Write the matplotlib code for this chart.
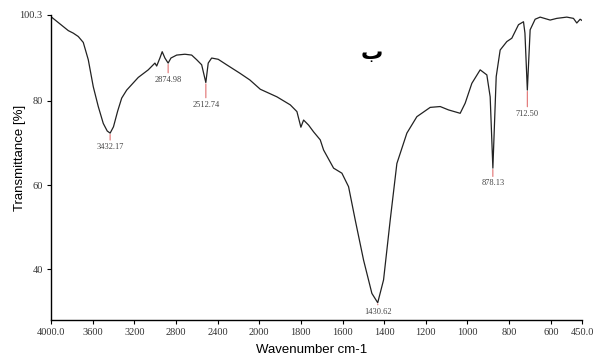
import numpy as np
import matplotlib
matplotlib.use('Agg')
import matplotlib.pyplot as plt
from matplotlib.ticker import FixedLocator

# spectrum (wavenumber cm-1, transmittance %)
wavenumber = [4000, 3834, 3786, 3738, 3690, 3642, 3594, 3546, 3498, 3460,
              3432, 3400, 3360, 3321, 3273, 3162, 3066, 3002, 2985, 2954,
              2932, 2906, 2875, 2848, 2793, 2714, 2649, 2601, 2553, 2513,
              2490, 2457, 2394, 2313, 2186, 2090, 1995, 1915, 1851, 1819,
              1800, 1787, 1763, 1739, 1707, 1691, 1643, 1603, 1571, 1539,
              1499, 1459, 1431, 1403, 1371, 1339, 1291, 1243, 1179, 1131,
              1091, 1035, 1011, 979, 939, 907, 891, 878, 862, 843,
              811, 787, 755, 731, 724, 712.5, 699, 675, 651, 603,
              571, 523, 491, 475, 459, 450]
transmittance = [99.9, 96.6, 96.0, 95.2, 93.8, 89.7, 83.3, 78.6, 74.6, 72.8,
                 72.3, 73.8, 77.5, 80.6, 82.5, 85.5, 87.3, 88.9, 88.2, 90.1,
                 91.6, 90.1, 88.9, 90.1, 90.8, 91.0, 90.8, 89.7, 88.5, 84.3,
                 88.9, 90.1, 89.8, 88.5, 86.5, 84.9, 82.7, 80.9, 79.0, 77.4,
                 73.7, 75.4, 74.2, 72.6, 70.7, 68.3, 64.0, 62.8, 59.6, 51.7,
                 42.2, 34.3, 32.1, 37.5, 51.7, 65.1, 72.3, 76.2, 78.4, 78.6,
                 77.8, 77.0, 79.4, 84.1, 87.3, 86.1, 80.9, 64.0, 85.7, 92.0,
                 94.0, 94.8, 98.0, 98.7, 96.0, 82.5, 96.8, 99.3, 99.8, 99.1,
                 99.5, 99.8, 99.5, 98.4, 99.3, 99.0]

peak_wn = [3432.17, 2874.98, 2512.74, 1430.62, 878.13, 712.50]
peak_t = [72.3, 88.9, 84.3, 32.1, 64.0, 82.5]
peak_labels = ['3432.17', '2874.98', '2512.74', '1430.62', '878.13', '712.50']
label_drop = [7, 9, 13, 3.5, 8, 14]   # points below the dip

xticks = [4000, 3600, 3200, 2800, 2400, 2000, 1800, 1600, 1400, 1200, 1000, 800, 600, 450]
xticklabels = ['4000.0', '3600', '3200', '2800', '2400', '2000', '1800', '1600',
               '1400', '1200', '1000', '800', '600', '450.0']
yticks = [40, 60, 80, 100.3]
yticklabels = ['40', '60', '80', '100.3']


# x axis is compressed by 2 above 2000 cm-1
def fwd(x):
    x = np.asarray(x, dtype=float)
    return np.where(x >= 2000, x / 2 + 1000, x)


def inv(u):
    u = np.asarray(u, dtype=float)
    return np.where(u >= 2000, (u - 1000) * 2, u)


fig = plt.figure(figsize=(6.02, 3.63), dpi=100)
ax = fig.add_axes([51 / 602, 1 - 320 / 363, 531 / 602, 305 / 363])

ax.plot(wavenumber, transmittance, color='#222222', lw=0.9)

ax.set_xscale('function', functions=(fwd, inv))
ax.set_xlim(4000, 450)
ax.set_ylim(28, 100.3)

ax.xaxis.set_major_locator(FixedLocator(xticks))
ax.set_xticklabels(xticklabels)
ax.xaxis.set_minor_locator(FixedLocator([]))
ax.set_yticks(yticks)
ax.set_yticklabels(yticklabels)

for side in ['top', 'right']:
    ax.spines[side].set_visible(False)
for side in ['left', 'bottom']:
    ax.spines[side].set_linewidth(1.0)
ax.tick_params(length=3, width=0.8, pad=3, labelsize=7.5, labelcolor='#333333')
for lab in ax.get_xticklabels() + ax.get_yticklabels():
    lab.set_family('Liberation Serif')

for wn, t, txt, d in zip(peak_wn, peak_t, peak_labels, label_drop):
    ax.annotate(txt, xy=(wn, t), xytext=(0, -d), textcoords='offset points',
                ha='center', va='top', fontsize=6, family='Liberation Serif',
                color='#444444',
                arrowprops=dict(arrowstyle='-', color='#e07070', lw=0.8,
                                shrinkA=0, shrinkB=1))

ax.text(1459, 91.2, 'ب', fontsize=16, fontweight='bold', family='DejaVu Sans',
        ha='center', va='center')

fig.text(20 / 602, 1 - 158 / 363, 'Transmittance [%]', rotation=90,
         ha='center', va='center', fontsize=9.5, family='Liberation Sans')
fig.text(312 / 602, 1 - 350 / 363, 'Wavenumber cm-1', ha='center', va='center',
         fontsize=9.5, family='Liberation Sans')

fig.savefig('out.png', dpi=100)
